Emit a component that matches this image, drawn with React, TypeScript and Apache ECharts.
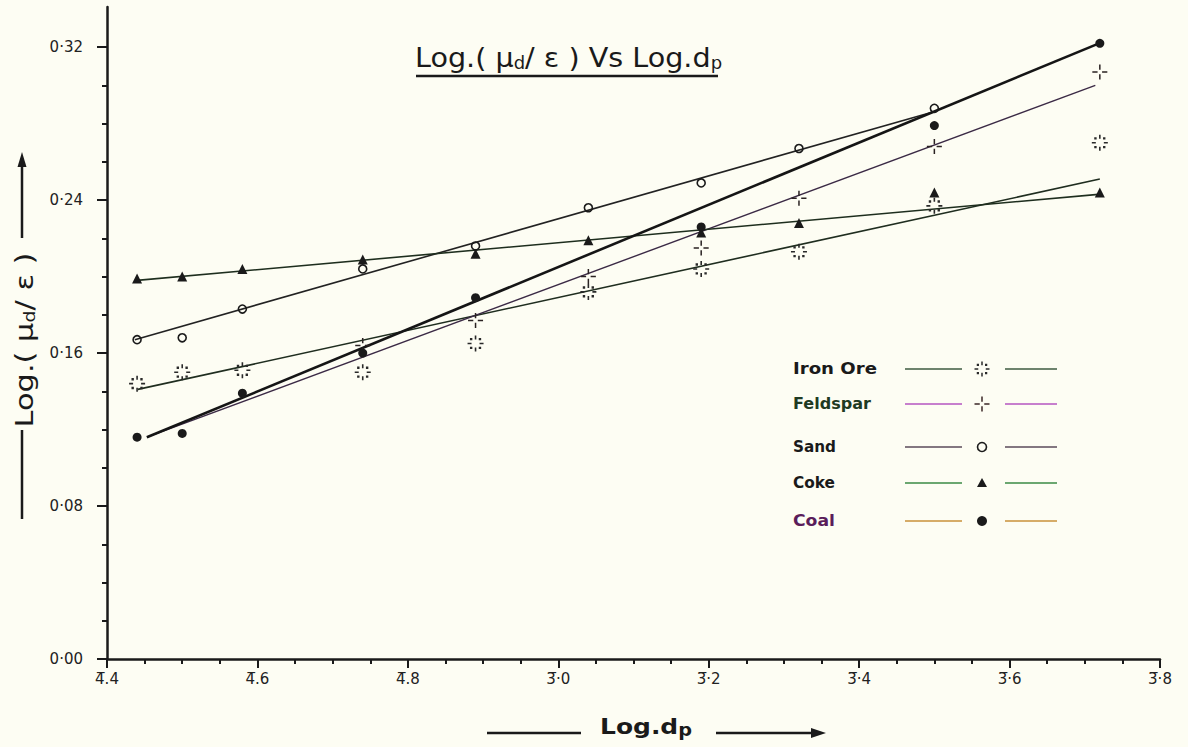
import React, { useEffect, useRef } from "react";
import * as echarts from "echarts";

// x: Log dp (bar notation, e.g. 4̄.4 = -3.6), one column per sieve fraction
const sieveLogDp = [-3.56, -3.5, -3.42, -3.26, -3.11, -2.96, -2.81, -2.68, -2.5, -2.28];

// y: Log(μd/ε) measured points
const ironOre = [0.144, 0.15, 0.151, 0.15, 0.165, 0.192, 0.204, 0.213, 0.237, 0.27];
const feldspar = [null, null, null, 0.164, 0.177, 0.2, 0.215, 0.241, 0.268, 0.307];
const sand = [0.167, 0.168, 0.183, 0.204, 0.216, 0.236, 0.249, 0.267, 0.288, null];
const coke = [0.199, 0.2, 0.204, 0.209, 0.212, 0.219, 0.223, 0.228, 0.244, 0.244];
const coal = [0.116, 0.118, 0.139, 0.16, 0.189, null, 0.226, null, 0.279, 0.322];

// hand-drawn straight lines (start, end) as [log dp, value]
const ironOreFit = [[-3.559, 0.141], [-2.28, 0.251]];
const feldsparFit = [[-3.547, 0.116], [-2.286, 0.3]];
const sandFit = [[-3.563, 0.167], [-2.503, 0.286]];
const cokeFit = [[-3.56, 0.198], [-2.282, 0.243]];
const coalFit = [[-3.547, 0.116], [-2.281, 0.322]];

const seriesNames = ["Iron Ore", "Feldspar", "Sand", "Coke", "Coal"];

const xTickLabels = ["4\u0305.4", "4\u0305.6", "4\u0305.8", "3\u0305\u00b70", "3\u0305\u00b72", "3\u0305\u00b74", "3\u0305\u00b76", "3\u0305\u00b78"];
const yMajorTicks = [0, 0.08, 0.16, 0.24, 0.32];
const yTickLabels = ["0\u00b700", "0\u00b708", "0\u00b716", "0\u00b724", "0\u00b732"];
const yMinorTicks = [0, 0.02, 0.04, 0.06, 0.08, 0.1, 0.12, 0.14, 0.16, 0.18, 0.2, 0.22, 0.24, 0.26, 0.28, 0.3, 0.32];

const INK = "#1a1a1a";
const FONT = '"DejaVu Sans", sans-serif';

const starRects = [[9, 0, 2, 5], [9, 15, 2, 5], [0, 9, 5, 2], [15, 9, 5, 2], [3, 3, 3, 3], [14, 3, 3, 3], [3, 14, 3, 3], [14, 14, 3, 3]];
const crossRects = [[9, 0, 2, 7], [9, 13, 2, 7], [0, 9, 7, 2], [13, 9, 7, 2]];
const toPath = (rects: number[][]) =>
  "path://" + rects.map(([x, y, w, h]) => `M${x} ${y}h${w}v${h}h${-w}z`).join("");

function measure(text: string, font: string): number {
  const ctx = document.createElement("canvas").getContext("2d");
  if (!ctx) return text.length * 10;
  ctx.font = font;
  return ctx.measureText(text).width;
}

const pts = (ys: (number | null)[]) =>
  sieveLogDp.map((x, i) => (ys[i] == null ? null : [x, ys[i]])).filter((p) => p !== null);

function rectGroup(rects: number[][], cx: number, cy: number, s: number, color: string) {
  return {
    type: "group",
    children: rects.map(([x, y, w, h]) => ({
      type: "rect",
      shape: { x: cx - 10 * s + x * s, y: cy - 10 * s + y * s, width: w * s, height: h * s },
      style: { fill: color },
    })),
  };
}

function legendMarker(kind: string, cx: number, cy: number) {
  if (kind === "star") return rectGroup(starRects, cx, cy, 0.75, "#2a2a2a");
  if (kind === "cross") return rectGroup(crossRects, cx, cy, 0.75, "#3a2626");
  if (kind === "ring") return { type: "circle", shape: { cx, cy, r: 4.5 }, style: { fill: "none", stroke: INK, lineWidth: 1.6 } };
  if (kind === "triangle") return { type: "polygon", shape: { points: [[cx, cy - 5], [cx - 5, cy + 4], [cx + 5, cy + 4]] }, style: { fill: INK } };
  return { type: "circle", shape: { cx, cy, r: 5 }, style: { fill: INK } };
}

export default function App() {
  const ref = useRef<HTMLDivElement>(null);

  useEffect(() => {
    if (!ref.current) return;
    const chart = echarts.init(ref.current, null, { renderer: "svg" });

    const legendRows = [
      { name: seriesNames[0], y: 369, textColor: "#1a1a1a", lineColor: "#3d5a40", marker: "star", width: 84 },
      { name: seriesNames[1], y: 404, textColor: "#1f3a22", lineColor: "#b455c0", marker: "cross", width: 78 },
      { name: seriesNames[2], y: 447, textColor: "#1a1a1a", lineColor: "#5a4a5a", marker: "ring", width: 43 },
      { name: seriesNames[3], y: 483, textColor: "#1a1a1a", lineColor: "#3a8a45", marker: "triangle", width: 42 },
      { name: seriesNames[4], y: 521, textColor: "#5a1d5a", lineColor: "#c8903a", marker: "dot", width: 42 },
    ];
    const legendFont = `bold 15px ${FONT}`;
    const legendGraphics: any[] = [];
    legendRows.forEach((r) => {
      legendGraphics.push({
        type: "text",
        x: 793,
        y: r.y,
        scaleX: r.width / measure(r.name, legendFont),
        style: { text: r.name, font: legendFont, fill: r.textColor, verticalAlign: "middle", textAlign: "left" },
      });
      legendGraphics.push({ type: "line", shape: { x1: 905, y1: r.y, x2: 962, y2: r.y }, style: { stroke: r.lineColor, lineWidth: 1.6 } });
      legendGraphics.push({ type: "line", shape: { x1: 1005, y1: r.y, x2: 1057, y2: r.y }, style: { stroke: r.lineColor, lineWidth: 1.6 } });
      legendGraphics.push(legendMarker(r.marker, 982, r.y));
    });

    const titleFont = `27px ${FONT}`;
    const titleW = measure("Log.( \u03bc/ \u03b5 ) Vs Log.d", titleFont) + 2 * measure("d", `17px ${FONT}`);
    const yTitleFont = `24px ${FONT}`;
    const yTitleW = measure("Log.( \u03bc/ \u03b5 )", yTitleFont) + measure("d", `15px ${FONT}`);
    const xTitleFont = `bold 22px ${FONT}`;
    const xTitleW = measure("Log.d", xTitleFont) + measure("p", `bold 17px ${FONT}`);

    const sub = (size: number, weight = "normal") => ({ fontSize: size, fontFamily: FONT, fontWeight: weight, fill: INK, verticalAlign: "bottom" });

    const graphics: any[] = [
      {
        type: "text",
        x: 415,
        y: 58,
        scaleX: 307 / titleW,
        style: {
          text: "Log.( \u03bc{s|d}/ \u03b5 ) Vs Log.d{s|p}",
          font: titleFont,
          fill: INK,
          verticalAlign: "middle",
          rich: { s: sub(17) },
        },
      },
      { type: "line", shape: { x1: 416, y1: 76, x2: 718, y2: 76 }, style: { stroke: INK, lineWidth: 2.5 } },
      // y title
      { type: "line", shape: { x1: 22, y1: 238, x2: 22, y2: 164 }, style: { stroke: INK, lineWidth: 2.5 } },
      { type: "polygon", shape: { points: [[22, 152], [17.5, 167], [26.5, 167]] }, style: { fill: INK } },
      {
        type: "text",
        x: 25,
        y: 340,
        rotation: Math.PI / 2,
        scaleX: 175 / yTitleW,
        style: {
          text: "Log.( \u03bc{s|d}/ \u03b5 )",
          font: yTitleFont,
          fill: INK,
          textAlign: "center",
          verticalAlign: "middle",
          rich: { s: sub(15) },
        },
      },
      { type: "line", shape: { x1: 22, y1: 430, x2: 22, y2: 519 }, style: { stroke: INK, lineWidth: 2.5 } },
      // x title
      { type: "line", shape: { x1: 487, y1: 733, x2: 581, y2: 733 }, style: { stroke: INK, lineWidth: 2.5 } },
      {
        type: "text",
        x: 600,
        y: 727,
        scaleX: 92 / xTitleW,
        style: {
          text: "Log.d{s|p}",
          font: xTitleFont,
          fill: INK,
          verticalAlign: "middle",
          rich: { s: sub(17, "bold") },
        },
      },
      { type: "line", shape: { x1: 716, y1: 733, x2: 814, y2: 733 }, style: { stroke: INK, lineWidth: 2.5 } },
      { type: "polygon", shape: { points: [[826, 733], [811, 728], [811, 738]] }, style: { fill: INK } },
      ...legendGraphics,
    ];

    const fitLine = (name: string, data: number[][], color: string, width: number) => ({
      name,
      type: "line",
      data,
      showSymbol: false,
      silent: true,
      z: 2,
      lineStyle: { color, width },
    });
    const scatter = (name: string, ys: (number | null)[], symbol: string, size: number, itemStyle: any) => ({
      name,
      type: "scatter",
      data: pts(ys),
      symbol,
      symbolSize: size,
      itemStyle: { opacity: 1, ...itemStyle },
      z: 3,
    });

    const option: any = {
      animation: false,
      backgroundColor: "#fdfdf3",
      grid: { left: 107, right: 28, top: 7, bottom: 88 },
      xAxis: [
        {
          type: "value",
          min: -3.6,
          max: -2.2,
          interval: 0.05,
          position: "bottom",
          axisLine: { show: true, lineStyle: { color: INK, width: 2.5 } },
          axisTick: { show: true, length: 5, lineStyle: { color: INK, width: 2 } },
          axisLabel: { show: false },
          splitLine: { show: false },
        },
        {
          type: "value",
          min: -3.6,
          max: -2.2,
          interval: 0.2,
          position: "bottom",
          offset: 0,
          axisLine: { show: false },
          axisTick: { show: true, length: 9, lineStyle: { color: INK, width: 2 } },
          axisLabel: {
            show: true,
            margin: 12,
            color: "#222",
            fontFamily: FONT,
            fontSize: 15,
            formatter: (v: number) => xTickLabels[Math.round((v + 3.6) / 0.2)] ?? "",
          },
          splitLine: { show: false },
        },
      ],
      yAxis: [
        {
          type: "value",
          min: 0,
          max: 0.341,
          position: "left",
          axisLine: { show: true, lineStyle: { color: INK, width: 2.5 } },
          axisTick: { show: true, length: 5, customValues: yMinorTicks, lineStyle: { color: INK, width: 2 } },
          axisLabel: { show: false },
          splitLine: { show: false },
        },
        {
          type: "value",
          min: 0,
          max: 0.341,
          position: "left",
          offset: 0,
          axisLine: { show: false },
          axisTick: { show: true, length: 10, customValues: yMajorTicks, lineStyle: { color: INK, width: 2 } },
          axisLabel: {
            show: true,
            customValues: yMajorTicks,
            margin: 24,
            color: "#222",
            fontFamily: FONT,
            fontSize: 15,
            formatter: (v: number) => yTickLabels[Math.round(v / 0.08)] ?? "",
          },
          splitLine: { show: false },
        },
      ],
      series: [
        fitLine(seriesNames[0], ironOreFit, "#1f2d1f", 1.6),
        fitLine(seriesNames[1], feldsparFit, "#3b2a45", 1.4),
        fitLine(seriesNames[2], sandFit, "#222222", 1.6),
        fitLine(seriesNames[3], cokeFit, "#1e2e1e", 1.6),
        fitLine(seriesNames[4], coalFit, "#151515", 2.6),
        scatter(seriesNames[0], ironOre, toPath(starRects), 16, { color: "#2a2a2a" }),
        scatter(seriesNames[1], feldspar, toPath(crossRects), 15, { color: "#2a2222" }),
        scatter(seriesNames[2], sand, "circle", 8, { color: "rgba(0,0,0,0)", borderColor: INK, borderWidth: 1.6 }),
        scatter(seriesNames[3], coke, "triangle", 10, { color: INK }),
        scatter(seriesNames[4], coal, "circle", 9, { color: INK }),
      ],
      graphic: graphics,
    };

    chart.setOption(option);
    return () => chart.dispose();
  }, []);

  return <div ref={ref} style={{ position: "fixed", left: 0, top: 0, width: 1188, height: 747 }} />;
}
